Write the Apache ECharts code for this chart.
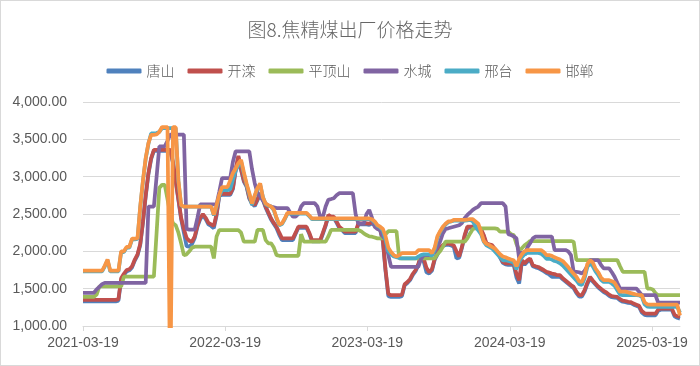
<!DOCTYPE html>
<html><head><meta charset="utf-8">
<script src="https://cdn.jsdelivr.net/npm/echarts@6/dist/echarts.min.js"></script>
<style>html,body{margin:0;padding:0;background:#fff}#c{width:700px;height:366px}#b{position:absolute;left:0;top:0;width:700px;height:366px;box-sizing:border-box;border:1px solid #d9d9d9;pointer-events:none}</style>
</head><body><div id="c"></div><div id="b"></div><script>
const titleText = '图8.焦精煤出厂价格走势';
const startDate = '2021-03-19';
const weekCount = 220;
const seriesNames = ['唐山','开滦','平顶山','水城','邢台','邯郸'];
const tickLabels = ['2021-03-19','2022-03-19','2023-03-19','2024-03-19','2025-03-19'];

const tangshan = [
1330,1330,1330,1330,1330,1330,1330,1330,1330,1330,
1330,1330,1330,1340,1620,1680,1730,1745,1785,1875,
1945,2085,2385,2735,3035,3235,3345,3345,3345,3345,
3345,3345,3345,3185,2935,2685,2430,2250,2070,2062,
2100,2180,2330,2430,2480,2430,2360,2340,2310,2480,
2745,2755,2755,2755,2755,2835,3085,3265,3085,2935,
2865,2705,2635,2605,2685,2765,2685,2585,2505,2425,
2365,2310,2220,2150,2150,2150,2150,2150,2235,2315,
2315,2315,2315,2235,2135,2135,2135,2135,2235,2340,
2470,2450,2450,2385,2315,2285,2245,2245,2245,2245,
2245,2360,2360,2360,2360,2355,2375,2345,2315,2285,
2130,1730,1400,1390,1390,1390,1390,1400,1545,1575,
1615,1685,1735,1815,1930,1860,1720,1703,1740,1885,
1955,2035,2070,2085,2090,2080,2060,1905,1915,2045,
2200,2315,2315,2315,2315,2315,2285,2205,2090,2080,
2068,2025,1980,1915,1845,1825,1820,1820,1820,1650,
1569,1860,1820,1860,1890,1800,1785,1775,1755,1735,
1710,1690,1659,1659,1659,1659,1625,1595,1565,1535,
1505,1440,1395,1395,1460,1560,1640,1595,1555,1515,
1485,1455,1435,1405,1385,1380,1375,1345,1325,1320,
1310,1305,1285,1270,1255,1180,1150,1143,1143,1143,
1143,1205,1218,1218,1218,1218,1218,1130,1110,1099];

const kailuan = [
1350,1350,1350,1350,1350,1350,1350,1350,1350,1350,
1350,1350,1350,1360,1640,1700,1750,1760,1800,1890,
1960,2100,2400,2750,3050,3250,3360,3360,3360,3360,
3360,3360,3360,3200,2950,2700,2450,2300,2180,2140,
2130,2200,2350,2450,2500,2450,2380,2360,2340,2500,
2760,2770,2770,2770,2770,2850,3100,3280,3100,2950,
2880,2720,2650,2620,2700,2780,2700,2600,2520,2440,
2380,2330,2250,2174,2174,2174,2174,2174,2250,2330,
2330,2330,2330,2250,2151,2151,2151,2151,2250,2353,
2487,2465,2465,2400,2330,2300,2263,2263,2263,2263,
2263,2375,2375,2375,2375,2370,2390,2360,2330,2300,
2150,1750,1430,1412,1412,1412,1412,1420,1560,1590,
1630,1700,1750,1830,1950,1900,1780,1720,1760,1900,
1972,2050,2084,2100,2107,2095,2080,2000,1930,2060,
2218,2330,2330,2330,2330,2330,2300,2220,2107,2095,
2084,2040,1995,1930,1860,1840,1838,1838,1838,1700,
1614,1880,1838,1880,1905,1815,1800,1790,1770,1750,
1726,1715,1703,1695,1681,1680,1640,1610,1580,1550,
1524,1460,1412,1412,1480,1580,1659,1610,1569,1530,
1500,1470,1450,1420,1400,1395,1390,1360,1340,1335,
1325,1320,1300,1285,1270,1200,1170,1165,1165,1165,
1165,1220,1233,1233,1233,1233,1233,1150,1130,1121];

const pingdingshan = [
1390,1390,1390,1390,1390,1420,1530,1530,1530,1530,
1530,1530,1530,1530,1530,1660,1660,1660,1660,1660,
1660,1660,1660,1660,1660,1660,1660,2250,2850,2890,
2890,2700,2500,2375,2350,2250,2107,1950,1960,2000,
2050,2062,2062,2062,2062,2062,2062,2062,1905,2200,
2285,2285,2285,2285,2285,2285,2285,2285,2250,2129,
2129,2129,2129,2129,2286,2286,2286,2150,2107,2107,
2050,1950,1940,1940,1940,1940,1940,1940,1940,1940,
2230,2130,2130,2130,2130,2130,2130,2130,2130,2130,
2200,2286,2286,2286,2286,2286,2286,2286,2286,2286,
2286,2286,2270,2240,2218,2200,2196,2185,2174,2174,
2174,2230,2270,2270,2270,2270,1905,1905,1905,1905,
1905,1905,1905,1905,1905,1905,1905,1905,1905,1905,
1960,2000,2060,2129,2129,2129,2129,2129,2129,2129,
2129,2174,2240,2300,2308,2308,2308,2308,2308,2308,
2308,2308,2300,2263,2263,2263,2263,2230,2218,2100,
2020,2040,2080,2107,2138,2138,2138,2138,2138,2138,
2138,2138,2138,2138,2138,2138,2138,2138,2138,2138,
2129,1883,1883,1883,1883,1883,1883,1883,1883,1883,
1883,1883,1883,1883,1883,1883,1883,1800,1726,1726,
1726,1726,1726,1726,1726,1726,1726,1502,1502,1490,
1440,1412,1412,1412,1412,1412,1412,1412,1412,1412];

const shuicheng = [
1445,1445,1445,1445,1445,1490,1524,1560,1578,1578,
1578,1578,1578,1578,1578,1578,1578,1578,1578,1578,
1578,1578,1578,1578,2599,2599,2599,3000,3406,3406,
3406,3480,3563,3563,3563,3563,3563,3563,2300,2290,
2290,2290,2450,2630,2630,2630,2630,2630,2630,2630,
2800,2980,2980,2980,2980,3200,3340,3340,3340,3340,
3340,3340,3100,2913,2780,2733,2680,2640,2610,2600,
2590,2580,2580,2580,2580,2580,2520,2464,2464,2500,
2600,2644,2644,2644,2644,2644,2600,2464,2464,2600,
2690,2700,2711,2750,2778,2778,2778,2778,2778,2778,
2500,2370,2370,2370,2500,2554,2450,2330,2300,2285,
2200,2160,1950,1793,1793,1793,1793,1793,1793,1793,
1793,1793,1793,1793,1900,1950,1950,1950,1960,1990,
2060,2129,2240,2300,2308,2320,2330,2340,2350,2380,
2443,2487,2520,2555,2580,2600,2644,2644,2644,2644,
2644,2644,2644,2644,2644,2600,2230,2218,2200,2174,
1905,1995,1950,2050,2107,2174,2196,2196,2196,2196,
2196,2196,2196,2017,2017,2017,2017,2017,2000,1950,
1726,1726,1720,1703,1740,1800,1883,1883,1883,1883,
1820,1771,1771,1771,1720,1659,1580,1502,1502,1502,
1502,1502,1502,1502,1460,1412,1412,1412,1412,1412,
1412,1314,1314,1314,1314,1314,1314,1314,1314,1314];

const xingtai = [
1730,1730,1730,1730,1730,1730,1730,1730,1800,1880,
1730,1730,1730,1730,1990,1990,2050,2050,2160,2160,
2165,2590,2940,3240,3440,3580,3580,3585,3600,3650,
3650,3650,3650,3650,3650,2940,2610,2600,2600,2600,
2600,2600,2600,2600,2600,2600,2600,2600,2480,2600,
2740,2820,2820,2820,2830,2960,3080,3150,3200,3040,
2890,2760,2620,2740,2840,2890,2730,2630,2610,2600,
2550,2440,2350,2365,2430,2505,2505,2505,2505,2505,
2505,2505,2505,2470,2430,2430,2430,2430,2430,2430,
2430,2430,2430,2430,2430,2430,2430,2430,2430,2430,
2430,2430,2430,2430,2430,2430,2420,2390,2340,2320,
2280,2150,2000,1960,1930,1920,1910,1905,1905,1905,
1905,1905,1905,1930,1950,1960,1960,1960,1940,2020,
2180,2260,2320,2360,2390,2400,2410,2410,2410,2410,
2410,2415,2420,2400,2330,2280,2230,2130,2080,2060,
2040,2000,1960,1920,1880,1880,1870,1860,1850,1760,
1860,1920,1960,1980,1980,1980,1980,1980,1970,1940,
1900,1900,1890,1870,1860,1840,1810,1770,1730,1690,
1650,1610,1560,1550,1640,1790,1840,1800,1730,1680,
1620,1590,1590,1590,1570,1540,1480,1420,1412,1412,
1412,1412,1412,1412,1410,1390,1290,1260,1255,1255,
1255,1255,1255,1255,1255,1255,1255,1255,1255,1180];

const handan = [
1740,1740,1740,1740,1740,1740,1740,1740,1810,1890,
1740,1740,1740,1740,2000,2000,2060,2060,2170,2170,
2175,2600,2950,3250,3450,3560,3560,3565,3600,3665,
3665,3665,0,3665,3665,2950,2620,2600,2600,2600,
2600,2600,2600,2600,2600,2600,2600,2600,2490,2620,
2760,2860,2860,2860,2950,3050,3110,3180,3225,3060,
2910,2780,2640,2750,2850,2910,2720,2640,2620,2600,
2560,2450,2360,2375,2440,2515,2515,2515,2515,2515,
2515,2515,2515,2480,2440,2440,2440,2440,2440,2440,
2440,2440,2440,2440,2440,2440,2440,2440,2440,2440,
2440,2440,2440,2440,2440,2440,2430,2400,2350,2330,
2300,2200,2050,1990,1950,1930,1950,1975,1975,1975,
1975,1975,1975,2015,2015,2015,2015,2015,1975,2050,
2200,2270,2330,2370,2400,2400,2420,2420,2420,2420,
2420,2425,2430,2430,2400,2370,2263,2140,2100,2084,
2060,2040,2000,1960,1930,1920,1905,1890,1880,1800,
1900,1960,2000,2017,2017,2017,2017,2017,2017,1990,
1950,1950,1940,1920,1905,1890,1870,1830,1790,1740,
1700,1660,1600,1590,1680,1830,1880,1850,1770,1720,
1650,1614,1614,1614,1600,1580,1520,1460,1460,1460,
1450,1440,1430,1420,1415,1412,1320,1290,1285,1285,
1285,1285,1285,1285,1285,1285,1285,1285,1285,1140];

const seriesValues = [tangshan, kailuan, pingdingshan, shuicheng, xingtai, handan];
const seriesColors = ['#4F81BD','#C0504D','#9BBB59','#8064A2','#4BACC6','#F79646'];

function toTime(s){const p=s.split('-');return new Date(+p[0],+p[1]-1,+p[2]).getTime();}
function pad(n){return (n<10?'0':'')+n;}
function fmtDate(t){const d=new Date(t);return d.getFullYear()+'-'+pad(d.getMonth()+1)+'-'+pad(d.getDate());}
const t0 = toTime(startDate);
const dates = [];
for (let i=0;i<weekCount;i++){const d=new Date(t0);d.setDate(d.getDate()+7*i);dates.push(d.getTime());}
const tickTimes = tickLabels.map(toTime);

const chart = echarts.init(document.getElementById('c'), null, {renderer:'canvas'});
const txt = '#595959';
chart.setOption({
  animation:false,
  backgroundColor:'#fff',
  title:{text:titleText,left:'center',top:15,textStyle:{fontSize:19,fontWeight:300,color:'#666',fontFamily:'Noto Sans CJK SC'}},
  legend:{data:seriesNames,top:59,left:'center',icon:'roundRect',itemWidth:35,itemHeight:5,itemGap:13,
    textStyle:{fontSize:14,fontWeight:300,color:txt,fontFamily:'Noto Sans CJK SC'}},
  grid:{left:83,right:20,top:102,bottom:40},
  xAxis:{type:'value',min:dates[0],max:dates[dates.length-1],scale:true,
    axisLine:{show:true,lineStyle:{color:'#d9d9d9',width:1}},
    axisTick:{show:true,customValues:tickTimes,length:5,lineStyle:{color:'#d9d9d9'}},
    axisLabel:{customValues:tickTimes,formatter:function(v){return fmtDate(v);},color:txt,fontSize:14,margin:10,fontFamily:'Liberation Sans',showMinLabel:true,showMaxLabel:true},
    splitLine:{show:false}},
  yAxis:{type:'value',min:1000,max:4000,interval:500,
    axisLine:{show:false},axisTick:{show:false},
    splitLine:{lineStyle:{color:'#d9d9d9',width:1}},
    axisLabel:{color:txt,fontSize:14,margin:16,fontFamily:'Liberation Sans',
      formatter:function(v){return v.toLocaleString('en-US',{minimumFractionDigits:2,maximumFractionDigits:2});}}},
  series: seriesNames.map(function(n,k){
    return {name:n,type:'line',showSymbol:false,symbol:'none',clip:true,
      color:seriesColors[k],lineStyle:{width:3.75,color:seriesColors[k]},
      data:dates.map(function(t,i){return [t,seriesValues[k][i]];})};
  })
});
</script></body></html>
